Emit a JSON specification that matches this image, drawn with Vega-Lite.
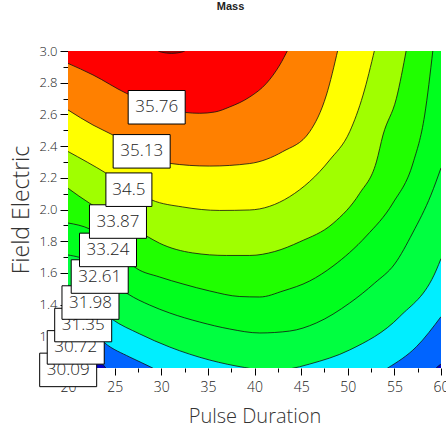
{
  "$schema": "https://vega.github.io/schema/vega-lite/v6.json",
  "width": 373,
  "height": 317,
  "autosize": {"type": "none"},
  "padding": {"left": 68, "top": 51, "right": 5, "bottom": 60},
  "background": "white",
  "title": {"text": "Mass", "fontSize": 11, "fontWeight": "bold", "font": "Liberation Sans", "color": "#222222", "anchor": "middle", "dx": -24, "offset": 33},
  "config": {"view": {"stroke": null}, "axis": {"labelOverlap": false, "labelFlush": false, "grid": false, "domain": false}},
  "data": {"name": "curves"},
  "datasets": {
    "curves": [
      {"level": "30.09", "x": 20, "y": 1.025}, {"level": "30.09", "x": 20.72, "y": 1.0}, {"level": "30.09", "x": 21.5, "y": 0.95}, {"level": "30.09", "x": 40, "y": 0.8}, {"level": "30.09", "x": 60, "y": 0.9},
      {"level": "30.72", "x": 20, "y": 1.177}, {"level": "30.72", "x": 22.33, "y": 1.082}, {"level": "30.72", "x": 24.05, "y": 1.0}, {"level": "30.72", "x": 24.6, "y": 0.95}, {"level": "30.72", "x": 40.56, "y": 0.83}, {"level": "30.72", "x": 58.8, "y": 0.95}, {"level": "30.72", "x": 59.48, "y": 1.0}, {"level": "30.72", "x": 60, "y": 1.025},
      {"level": "31.35", "x": 20, "y": 1.347}, {"level": "31.35", "x": 22.33, "y": 1.252}, {"level": "31.35", "x": 23.94, "y": 1.158}, {"level": "31.35", "x": 26.62, "y": 1.069}, {"level": "31.35", "x": 29.08, "y": 1.0}, {"level": "31.35", "x": 30.91, "y": 0.937}, {"level": "31.35", "x": 40.56, "y": 0.861}, {"level": "31.35", "x": 52.36, "y": 0.937}, {"level": "31.35", "x": 54.29, "y": 1.0}, {"level": "31.35", "x": 57.36, "y": 1.134}, {"level": "31.35", "x": 60, "y": 1.324},
      {"level": "31.98", "x": 20, "y": 1.524}, {"level": "31.98", "x": 22.33, "y": 1.429}, {"level": "31.98", "x": 24.69, "y": 1.309}, {"level": "31.98", "x": 27.69, "y": 1.215}, {"level": "31.98", "x": 30.91, "y": 1.132}, {"level": "31.98", "x": 35.2, "y": 1.05}, {"level": "31.98", "x": 38.95, "y": 1.003}, {"level": "31.98", "x": 41.63, "y": 0.981}, {"level": "31.98", "x": 43.77, "y": 0.994}, {"level": "31.98", "x": 45.92, "y": 1.025}, {"level": "31.98", "x": 50.21, "y": 1.114}, {"level": "31.98", "x": 55.57, "y": 1.324}, {"level": "31.98", "x": 59.5, "y": 1.618}, {"level": "31.98", "x": 60, "y": 1.69},
      {"level": "32.61", "x": 20, "y": 1.713}, {"level": "32.61", "x": 22.33, "y": 1.669}, {"level": "32.61", "x": 24.47, "y": 1.555}, {"level": "32.61", "x": 26.43, "y": 1.467}, {"level": "32.61", "x": 28.76, "y": 1.397}, {"level": "32.61", "x": 30.91, "y": 1.347}, {"level": "32.61", "x": 34.12, "y": 1.29}, {"level": "32.61", "x": 37.34, "y": 1.246}, {"level": "32.61", "x": 40.56, "y": 1.221}, {"level": "32.61", "x": 43.77, "y": 1.233}, {"level": "32.61", "x": 46.63, "y": 1.284}, {"level": "32.61", "x": 50.21, "y": 1.41}, {"level": "32.61", "x": 52.89, "y": 1.536}, {"level": "32.61", "x": 55.03, "y": 1.656}, {"level": "32.61", "x": 56.96, "y": 1.852}, {"level": "32.61", "x": 58.92, "y": 2.091}, {"level": "32.61", "x": 60, "y": 2.262},
      {"level": "33.24", "x": 20, "y": 1.915}, {"level": "33.24", "x": 22.33, "y": 1.877}, {"level": "33.24", "x": 24.47, "y": 1.795}, {"level": "33.24", "x": 27.33, "y": 1.629}, {"level": "33.24", "x": 29.83, "y": 1.574}, {"level": "33.24", "x": 32.33, "y": 1.53}, {"level": "33.24", "x": 35.2, "y": 1.486}, {"level": "33.24", "x": 38.42, "y": 1.451}, {"level": "33.24", "x": 40.56, "y": 1.448}, {"level": "33.24", "x": 43.06, "y": 1.486}, {"level": "33.24", "x": 45.92, "y": 1.549}, {"level": "33.24", "x": 48.42, "y": 1.643}, {"level": "33.24", "x": 52.0, "y": 1.833}, {"level": "33.24", "x": 54.85, "y": 2.041}, {"level": "33.24", "x": 57.0, "y": 2.293}, {"level": "33.24", "x": 58.25, "y": 2.596}, {"level": "33.24", "x": 59.14, "y": 3.01},
      {"level": "33.87", "x": 20, "y": 2.134}, {"level": "33.87", "x": 22.33, "y": 2.039}, {"level": "33.87", "x": 24.47, "y": 1.965}, {"level": "33.87", "x": 26.62, "y": 1.89}, {"level": "33.87", "x": 28.41, "y": 1.833}, {"level": "33.87", "x": 29.83, "y": 1.787}, {"level": "33.87", "x": 33.37, "y": 1.726}, {"level": "33.87", "x": 36.98, "y": 1.71}, {"level": "33.87", "x": 39.49, "y": 1.71}, {"level": "33.87", "x": 42.17, "y": 1.735}, {"level": "33.87", "x": 44.85, "y": 1.796}, {"level": "33.87", "x": 48.42, "y": 1.912}, {"level": "33.87", "x": 51.28, "y": 2.102}, {"level": "33.87", "x": 53.07, "y": 2.3}, {"level": "33.87", "x": 53.78, "y": 2.47}, {"level": "33.87", "x": 55.22, "y": 2.702}, {"level": "33.87", "x": 56.29, "y": 3.01},
      {"level": "34.5", "x": 20, "y": 2.366}, {"level": "34.5", "x": 24.12, "y": 2.228}, {"level": "34.5", "x": 26.08, "y": 2.155}, {"level": "34.5", "x": 27.69, "y": 2.098}, {"level": "34.5", "x": 28.98, "y": 2.06}, {"level": "34.5", "x": 32.3, "y": 2.016}, {"level": "34.5", "x": 36.27, "y": 1.994}, {"level": "34.5", "x": 39.49, "y": 1.997}, {"level": "34.5", "x": 43.77, "y": 2.081}, {"level": "34.5", "x": 48.06, "y": 2.312}, {"level": "34.5", "x": 50.21, "y": 2.491}, {"level": "34.5", "x": 51.64, "y": 2.722}, {"level": "34.5", "x": 52.89, "y": 3.01},
      {"level": "35.13", "x": 20, "y": 2.628}, {"level": "35.13", "x": 22.68, "y": 2.533}, {"level": "35.13", "x": 24.82, "y": 2.47}, {"level": "35.13", "x": 27.69, "y": 2.375}, {"level": "35.13", "x": 29.3, "y": 2.331}, {"level": "35.13", "x": 30.91, "y": 2.291}, {"level": "35.13", "x": 35.2, "y": 2.274}, {"level": "35.13", "x": 39.49, "y": 2.29}, {"level": "35.13", "x": 43.02, "y": 2.365}, {"level": "35.13", "x": 45.92, "y": 2.491}, {"level": "35.13", "x": 47.71, "y": 2.722}, {"level": "35.13", "x": 48.95, "y": 3.01},
      {"level": "35.76", "x": 20, "y": 2.922}, {"level": "35.76", "x": 22.68, "y": 2.849}, {"level": "35.76", "x": 26.26, "y": 2.733}, {"level": "35.76", "x": 28.76, "y": 2.672}, {"level": "35.76", "x": 30.9, "y": 2.634}, {"level": "35.76", "x": 32.62, "y": 2.612}, {"level": "35.76", "x": 34.12, "y": 2.607}, {"level": "35.76", "x": 35.73, "y": 2.615}, {"level": "35.76", "x": 37.34, "y": 2.647}, {"level": "35.76", "x": 39.49, "y": 2.71}, {"level": "35.76", "x": 41.28, "y": 2.796}, {"level": "35.76", "x": 42.71, "y": 2.912}, {"level": "35.76", "x": 43.6, "y": 3.01},
      {"level": "36.39", "x": 29.2, "y": 3.02}, {"level": "36.39", "x": 30.0, "y": 2.993}, {"level": "36.39", "x": 31.1, "y": 2.985}, {"level": "36.39", "x": 32.2, "y": 2.993}, {"level": "36.39", "x": 33.0, "y": 3.02}
    ],
    "labels": [
      {"label": "30.09", "x": 20.02, "y": 0.988},
      {"label": "30.72", "x": 20.83, "y": 1.13},
      {"label": "31.35", "x": 21.63, "y": 1.271},
      {"label": "31.98", "x": 22.41, "y": 1.413},
      {"label": "32.61", "x": 23.4, "y": 1.577},
      {"label": "33.24", "x": 24.29, "y": 1.745},
      {"label": "33.87", "x": 25.36, "y": 1.924},
      {"label": "34.5", "x": 26.53, "y": 2.125},
      {"label": "35.13", "x": 27.9, "y": 2.367},
      {"label": "35.76", "x": 29.51, "y": 2.645}
    ]
  },
  "encoding": {
    "x": {"field": "x", "type": "quantitative", "scale": {"domain": [20, 60], "nice": false, "zero": false},
      "axis": {"title": "Pulse Duration", "values": [20, 22.5, 25, 27.5, 30, 32.5, 35, 37.5, 40, 42.5, 45, 47.5, 50, 52.5, 55, 57.5, 60],
        "labelExpr": "datum.value % 5 == 0 ? format(datum.value, 'd') : ''",
        "tickSize": {"condition": {"test": "datum.value % 5 == 0", "value": 7}, "value": 4},
        "tickColor": "#000000", "labelFont": "Open Sans", "labelFontWeight": 300, "labelFontSize": 14, "labelColor": "#222222", "labelPadding": 5,
        "titleFont": "Open Sans", "titleFontSize": 20, "titleFontWeight": 300, "titleColor": "#333333", "titleBaseline": "alphabetic", "titleY": 54}},
    "y": {"field": "y", "type": "quantitative", "scale": {"domain": [1, 3], "nice": false, "zero": false},
      "axis": {"title": "Field Electric", "values": [1, 1.1, 1.2, 1.3, 1.4, 1.5, 1.6, 1.7, 1.8, 1.9, 2, 2.1, 2.2, 2.3, 2.4, 2.5, 2.6, 2.7, 2.8, 2.9, 3],
        "labelExpr": "round(datum.value * 10) % 2 == 0 ? format(datum.value, '.1f') : ''",
        "tickSize": {"condition": {"test": "round(datum.value * 10) % 2 == 0", "value": 8}, "value": 5},
        "tickColor": "#000000", "labelFont": "Open Sans", "labelFontWeight": 300, "labelFontSize": 13, "labelColor": "#222222", "labelPadding": 3,
        "titleFont": "Open Sans", "titleFontSize": 23, "titleFontWeight": 300, "titleColor": "#333333", "titleBaseline": "alphabetic", "titleX": -40}}
  },
  "layer": [
    {"transform": [{"filter": "datum.level == '30.09'"}], "mark": {"type": "area", "clip": true, "interpolate": "monotone", "color": "#0000C8"}, "encoding": {"y2": {"datum": 3}}},
    {"transform": [{"filter": "datum.level == '30.72'"}], "mark": {"type": "area", "clip": true, "interpolate": "monotone", "color": "#0064FF"}, "encoding": {"y2": {"datum": 3}}},
    {"transform": [{"filter": "datum.level == '31.35'"}], "mark": {"type": "area", "clip": true, "interpolate": "monotone", "color": "#00EEFF"}, "encoding": {"y2": {"datum": 3}}},
    {"transform": [{"filter": "datum.level == '31.98'"}], "mark": {"type": "area", "clip": true, "interpolate": "monotone", "color": "#00FF40"}, "encoding": {"y2": {"datum": 3}}},
    {"transform": [{"filter": "datum.level == '32.61'"}], "mark": {"type": "area", "clip": true, "interpolate": "monotone", "color": "#00FF1E"}, "encoding": {"y2": {"datum": 3}}},
    {"transform": [{"filter": "datum.level == '33.24'"}], "mark": {"type": "area", "clip": true, "interpolate": "monotone", "color": "#20FF00"}, "encoding": {"y2": {"datum": 3}}},
    {"transform": [{"filter": "datum.level == '33.87'"}], "mark": {"type": "area", "clip": true, "interpolate": "monotone", "color": "#A0FF00"}, "encoding": {"y2": {"datum": 3}}},
    {"transform": [{"filter": "datum.level == '34.5'"}], "mark": {"type": "area", "clip": true, "interpolate": "monotone", "color": "#FFFF00"}, "encoding": {"y2": {"datum": 3}}},
    {"transform": [{"filter": "datum.level == '35.13'"}], "mark": {"type": "area", "clip": true, "interpolate": "monotone", "color": "#FF8000"}, "encoding": {"y2": {"datum": 3}}},
    {"transform": [{"filter": "datum.level == '35.76'"}], "mark": {"type": "area", "clip": true, "interpolate": "monotone", "color": "#FF0000"}, "encoding": {"y2": {"datum": 3}}},
    {"transform": [{"filter": "datum.level == '36.39'"}], "mark": {"type": "area", "clip": true, "interpolate": "monotone", "color": "#A80000"}, "encoding": {"y2": {"datum": 3}}},
    {"mark": {"type": "line", "clip": true, "interpolate": "monotone", "color": "#111111", "strokeWidth": 0.8}, "encoding": {"detail": {"field": "level"}}},
    {"data": {"values": [{}]}, "mark": {"type": "rule", "color": "#000000", "strokeWidth": 1}, "encoding": {"x": {"datum": 20}, "y": {"datum": 1}, "y2": {"datum": 3}}},
    {"data": {"values": [{}]}, "mark": {"type": "rule", "color": "#000000", "strokeWidth": 1}, "encoding": {"y": {"datum": 1}, "x": {"datum": 20}, "x2": {"datum": 60}}},
    {"data": {"values": [{}]}, "mark": {"type": "rule", "color": "#333333", "strokeWidth": 1}, "encoding": {"x": {"datum": 60}, "y": {"datum": 1}, "y2": {"datum": 3}}},
    {"data": {"values": [{}]}, "mark": {"type": "rule", "color": "#aaaaaa", "strokeWidth": 1}, "encoding": {"y": {"datum": 3}, "x": {"datum": 20}, "x2": {"datum": 60}}},
    {
      "data": {"name": "labels"}, "transform": [{"filter": "datum.label == '30.09'"}],
      "mark": {"type": "point", "filled": true, "fill": "white", "stroke": "#000000", "strokeWidth": 1, "opacity": 1, "size": 3249, "shape": "M-1,-0.588H1V0.588H-1Z"}
    },
    {
      "data": {"name": "labels"}, "transform": [{"filter": "datum.label == '30.09'"}],
      "mark": {"type": "text", "font": "Open Sans", "fontWeight": 300, "fontSize": 17, "color": "#222222", "baseline": "middle", "align": "center", "dy": 0},
      "encoding": {"text": {"field": "label"}}
    },
    {
      "data": {"name": "labels"}, "transform": [{"filter": "datum.label == '30.72'"}],
      "mark": {"type": "point", "filled": true, "fill": "white", "stroke": "#000000", "strokeWidth": 1, "opacity": 1, "size": 3249, "shape": "M-1,-0.588H1V0.588H-1Z"}
    },
    {
      "data": {"name": "labels"}, "transform": [{"filter": "datum.label == '30.72'"}],
      "mark": {"type": "text", "font": "Open Sans", "fontWeight": 300, "fontSize": 17, "color": "#222222", "baseline": "middle", "align": "center", "dy": 0},
      "encoding": {"text": {"field": "label"}}
    },
    {
      "data": {"name": "labels"}, "transform": [{"filter": "datum.label == '31.35'"}],
      "mark": {"type": "point", "filled": true, "fill": "white", "stroke": "#000000", "strokeWidth": 1, "opacity": 1, "size": 3249, "shape": "M-1,-0.588H1V0.588H-1Z"}
    },
    {
      "data": {"name": "labels"}, "transform": [{"filter": "datum.label == '31.35'"}],
      "mark": {"type": "text", "font": "Open Sans", "fontWeight": 300, "fontSize": 17, "color": "#222222", "baseline": "middle", "align": "center", "dy": 0},
      "encoding": {"text": {"field": "label"}}
    },
    {
      "data": {"name": "labels"}, "transform": [{"filter": "datum.label != '30.09' && datum.label != '30.72' && datum.label != '31.35'"}],
      "mark": {"type": "point", "filled": true, "fill": "white", "stroke": "#000000", "strokeWidth": 1, "opacity": 1, "size": 3249},
      "encoding": {
        "shape": {"condition": {"test": "length(datum.label) == 4", "value": "M-0.807,-0.588H0.807V0.588H-0.807Z"}, "value": "M-1,-0.588H1V0.588H-1Z"}
      }
    },
    {
      "data": {"name": "labels"}, "transform": [{"filter": "datum.label != '30.09' && datum.label != '30.72' && datum.label != '31.35'"}],
      "mark": {"type": "text", "font": "Open Sans", "fontWeight": 300, "fontSize": 17, "color": "#222222", "baseline": "middle", "align": "center", "dy": 0},
      "encoding": {"text": {"field": "label"}}
    }
  ]
}
